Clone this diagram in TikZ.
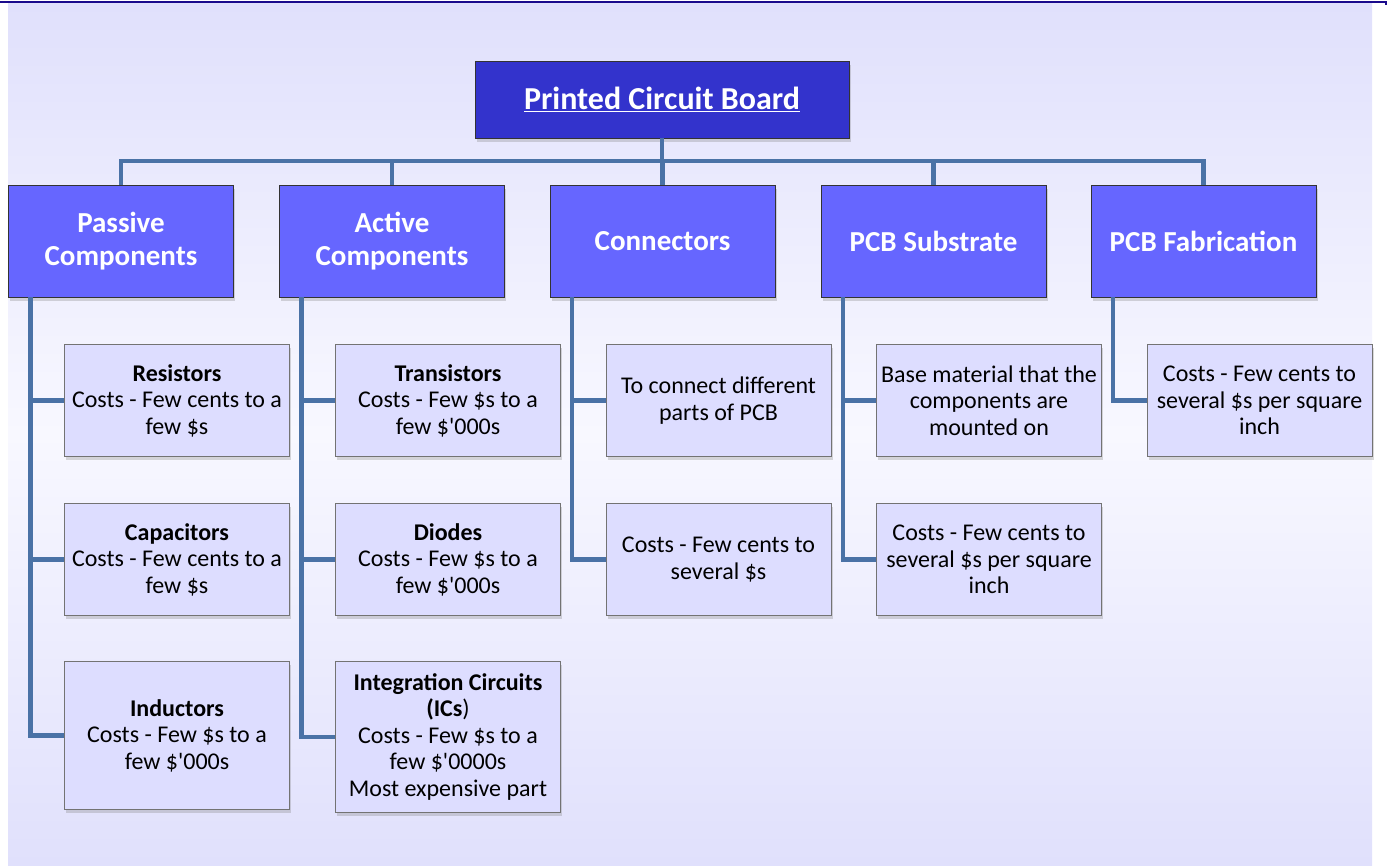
\documentclass[tikz,border=0pt]{standalone}
\usepackage{fontspec}
\setmainfont{Carlito}
\usepackage{tikz}
\usetikzlibrary{shadows}

\definecolor{rootblue}{HTML}{3333CC}
\definecolor{catblue}{HTML}{6666FF}
\definecolor{leaffill}{HTML}{DDDDFF}
\definecolor{linkblue}{HTML}{4A72A6}
\definecolor{bgtop}{HTML}{E0E0FC}
\definecolor{bgmid}{HTML}{F8F8FF}
\definecolor{toprule}{HTML}{1A0A8C}

\tikzset{
	rootbox/.style={draw=black!80, fill=rootblue, text=white, thin,
		font=\bfseries\fontsize{32}{36}\selectfont,
		minimum width=374pt, minimum height=77pt, inner sep=0pt,
		drop shadow={opacity=0.3, shadow xshift=1.5pt, shadow yshift=-3.5pt}},
	catbox/.style={draw=black!80, fill=catblue, text=white, thin, align=center,
		font=\bfseries\fontsize{29}{33}\selectfont,
		minimum width=225pt, minimum height=112pt, inner sep=0pt,
		drop shadow={opacity=0.3, shadow xshift=1.5pt, shadow yshift=-3.5pt}},
	leafbox/.style={draw=black!55, fill=leaffill, line width=0.9pt, align=center,
		anchor=north, font=\fontsize{24}{26.5}\selectfont,
		minimum width=225pt, minimum height=112pt, inner sep=0pt,
		drop shadow={opacity=0.3, shadow xshift=1.5pt, shadow yshift=-3.5pt}},
	link/.style={draw=linkblue, line width=4.5pt},
}

\begin{document}
\begin{tikzpicture}[x=1pt,y=-1pt]
	\useasboundingbox (0,0) rectangle (1391,865);
	% page background
	\fill[top color=bgtop, bottom color=bgtop, middle color=bgmid] (8,3) rectangle (1372,865);
	\draw[toprule, line width=1.5pt] (0,2) -- (1386,2) -- (1386,5);

	\node[rootbox] (root) at (662,99.5) {\underline{Printed Circuit Board}};

	% first level
	\node[catbox] (passive) at (121,241) {Passive\\Components};
	\node[catbox] (active) at (392,241) {Active\\Components};
	\node[catbox] (conn) at (662.5,241) {Connectors};
	\node[catbox] (subst) at (933.5,241) {PCB Substrate};
	\node[catbox] (fab) at (1203.5,241) {PCB Fabrication};

	% second level
	\node[leafbox] (res) at (177,344) {\textbf{Resistors}\\Costs - Few cents to a\\few \$s};
	\node[leafbox] (cap) at (177,503) {\textbf{Capacitors}\\Costs - Few cents to a\\few \$s};
	\node[leafbox, minimum height=148pt] (ind) at (177,661) {\textbf{Inductors}\\Costs - Few \$s to a\\few \$\textquotesingle000s};
	\node[leafbox] (tr) at (448,344) {\textbf{Transistors}\\Costs - Few \$s to a\\few \$\textquotesingle000s};
	\node[leafbox] (di) at (448,503) {\textbf{Diodes}\\Costs - Few \$s to a\\few \$\textquotesingle000s};
	\node[leafbox, minimum height=151pt] (ic) at (448,661) {\textbf{Integration Circuits}\\\textbf{(ICs})\\Costs - Few \$s to a\\few \$\textquotesingle0000s\\Most expensive part};
	\node[leafbox] (cn1) at (718.5,344) {To connect different\\parts of PCB};
	\node[leafbox] (cn2) at (718.5,503) {Costs - Few cents to\\several \$s};
	\node[leafbox] (sb1) at (989,344) {Base material that the\\components are\\mounted on};
	\node[leafbox] (sb2) at (989,503) {Costs - Few cents to\\several \$s per square\\inch};
	\node[leafbox] (fb1) at (1259.5,344) {Costs - Few cents to\\several \$s per square\\inch};

	% connectors
	\foreach \c in {passive,active,conn,subst,fab}
		\draw[link] (root.south) |- ([yshift=24pt]\c.north) -- (\c.north);
	\foreach \p/\l in {passive/res,passive/cap,passive/ind,active/tr,active/di,active/ic,
		conn/cn1,conn/cn2,subst/sb1,subst/sb2,fab/fb1}
		\draw[link] ([xshift=22pt]\p.south west) |- (\l.west);
\end{tikzpicture}
\end{document}
